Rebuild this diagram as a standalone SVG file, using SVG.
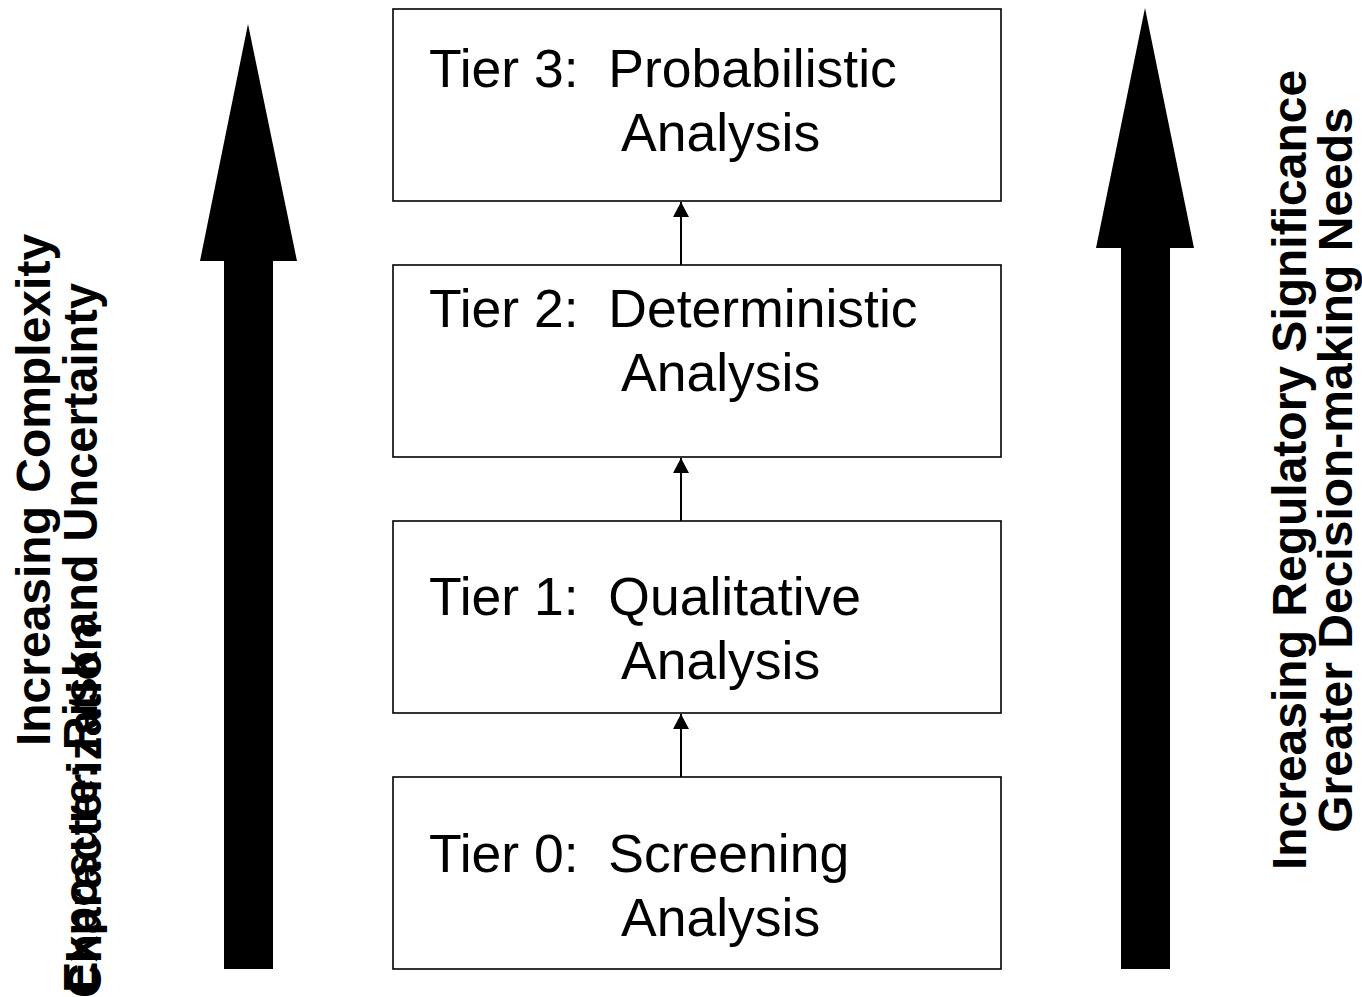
<svg xmlns="http://www.w3.org/2000/svg" width="1362" height="997" viewBox="0 0 1362 997">
<style>
.box{fill:#fff;stroke:#000;stroke-width:1.6}
.t{font-family:"Liberation Sans",Arial,sans-serif;font-size:53.5px;fill:#000;white-space:pre}
.side{font-family:"Liberation Sans",Arial,sans-serif;font-size:48px;font-weight:bold;fill:#000}
.conn{stroke:#000;stroke-width:2;fill:none}
</style>
<defs>
<marker id="ah" markerUnits="userSpaceOnUse" markerWidth="16" markerHeight="16" refX="15" refY="8" orient="auto">
<path d="M0,0 L15,8 L0,16 z" fill="#000"/>
</marker>
</defs>
<rect width="1362" height="997" fill="#fff"/>
<g id="big-arrow-left">
<polygon points="248,24 297,261 273,261 273,969 224,969 224,261 200,261" fill="#000"/>
</g>
<g id="big-arrow-right">
<polygon points="1145,8 1194,248 1170,248 1170,969 1121,969 1121,248 1096,248" fill="#000"/>
</g>
<g id="label-left">
<text class="side" transform="translate(50,490) rotate(-90)" text-anchor="middle">Increasing Complexity</text>
<text class="side" transform="translate(97,993) rotate(-90)" textLength="710" lengthAdjust="spacingAndGlyphs">Exposure: Risk and Uncertainty</text>
<text class="side" transform="translate(101,998) rotate(-90)">Characterization</text>
</g>
<g id="label-right">
<text class="side" transform="translate(1306,470) rotate(-90)" text-anchor="middle">Increasing Regulatory Significance</text>
<text class="side" transform="translate(1352,470) rotate(-90)" text-anchor="middle">Greater Decision-making Needs</text>
</g>
<g id="connectors">
<line class="conn" x1="681" y1="265" x2="681" y2="202" marker-end="url(#ah)"/>
<line class="conn" x1="681" y1="521" x2="681" y2="458" marker-end="url(#ah)"/>
<line class="conn" x1="681" y1="777" x2="681" y2="714" marker-end="url(#ah)"/>
</g>
<g id="tier3">
<rect class="box" x="393" y="9" width="608" height="192"/>
<text class="t" x="429" y="87" xml:space="preserve">Tier 3:  Probabilistic</text>
<text class="t" x="621" y="151">Analysis</text>
</g>
<g id="tier2">
<rect class="box" x="393" y="265" width="608" height="192"/>
<text class="t" x="429" y="327" xml:space="preserve">Tier 2:  Deterministic</text>
<text class="t" x="621" y="391">Analysis</text>
</g>
<g id="tier1">
<rect class="box" x="393" y="521" width="608" height="192"/>
<text class="t" x="429" y="615" xml:space="preserve">Tier 1:  Qualitative</text>
<text class="t" x="621" y="679">Analysis</text>
</g>
<g id="tier0">
<rect class="box" x="393" y="777" width="608" height="192"/>
<text class="t" x="429" y="872" xml:space="preserve">Tier 0:  Screening</text>
<text class="t" x="621" y="936">Analysis</text>
</g>
</svg>
